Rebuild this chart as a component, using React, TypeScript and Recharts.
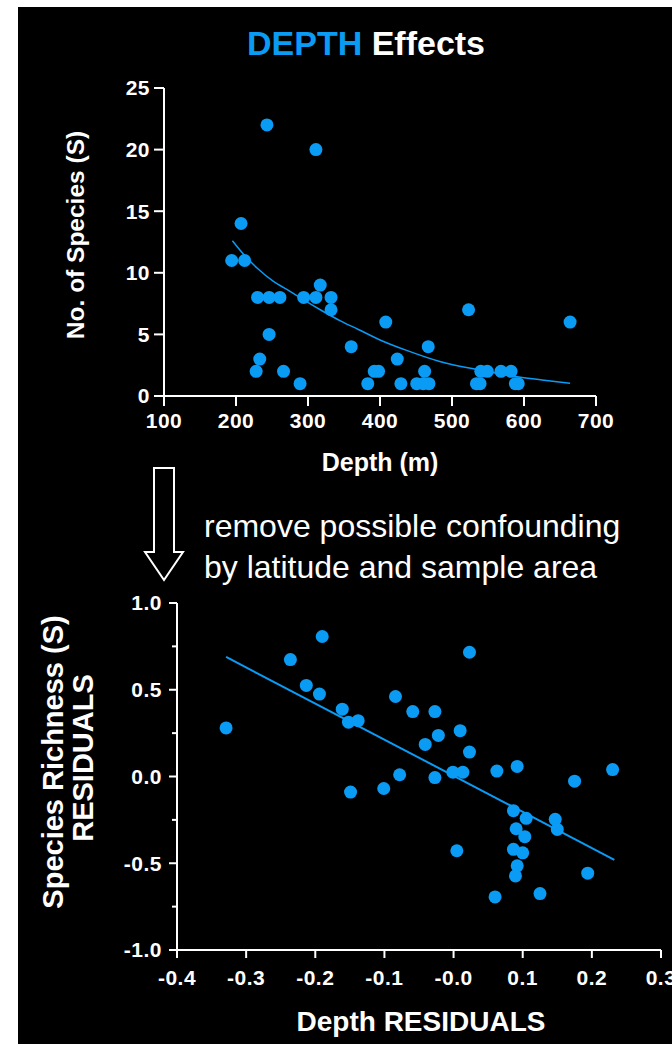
import React from 'react';
import { ScatterChart, Scatter, XAxis, YAxis } from 'recharts';

const BLUE = '#0a9bf5';
const FONT = '"Liberation Sans", Arial, Helvetica, sans-serif';

// top panel: species count vs depth (m)
const depthM = [243, 311, 207, 194, 212, 317, 230, 246, 261, 294, 311, 332, 332, 246, 408, 360, 233, 228, 266, 289, 383, 392, 398, 424, 429, 467, 462, 451, 460, 468, 523, 664, 540, 549, 568, 582, 534, 539, 588, 592];
const speciesS = [22, 20, 14, 11, 11, 9, 8, 8, 8, 8, 8, 8, 7, 5, 6, 4, 3, 2, 2, 1, 1, 2, 2, 3, 1, 4, 2, 1, 1, 1, 7, 6, 2, 2, 2, 2, 1, 1, 1, 1];
// fitted decay curve
const depthFitX = [195, 212, 230, 252, 275, 294, 320, 345, 370, 400, 437, 483, 539, 585, 625, 664];
const depthFitY = [12.6, 11.4, 10.35, 9.3, 8.5, 7.8, 6.9, 6.1, 5.4, 4.55, 3.7, 2.8, 2.1, 1.6, 1.3, 1.03];
const topXTicks = [100, 200, 300, 400, 500, 600, 700];
const topYTicks = [0, 5, 10, 15, 20, 25];

// bottom panel: residuals
const depthResid = [-0.329, -0.236, -0.19, -0.213, -0.194, -0.161, -0.152, -0.138, -0.084, -0.059, -0.149, -0.101, -0.078, 0.023, -0.027, -0.022, -0.041, 0.0095, 0.023, -0.027, -0.001, 0.0134, 0.0626, 0.092, 0.175, 0.23, 0.0866, 0.105, 0.147, 0.15, 0.0905, 0.103, 0.0866, 0.1, 0.092, 0.0895, 0.0047, 0.06, 0.125, 0.194];
const richResid = [0.28, 0.674, 0.807, 0.525, 0.475, 0.388, 0.313, 0.322, 0.461, 0.374, -0.09, -0.069, 0.01, 0.716, 0.374, 0.237, 0.185, 0.264, 0.141, -0.006, 0.025, 0.025, 0.031, 0.058, -0.027, 0.04, -0.197, -0.241, -0.247, -0.305, -0.301, -0.347, -0.42, -0.44, -0.515, -0.573, -0.428, -0.694, -0.675, -0.557];
const residFitX = [-0.329, 0.2325];
const residFitY = [0.689, -0.48];
const botXTicks = [-0.4, -0.3, -0.2, -0.1, 0, 0.1, 0.2, 0.3];
const botXLabels = ['-0.4', '-0.3', '-0.2', '-0.1', '-0.0', '0.1', '0.2', '0.3'];
const botYTicks = [-1, -0.75, -0.5, -0.25, 0, 0.25, 0.5, 0.75, 1];
const botYLabels = ['-1.0', '', '-0.5', '', '0.0', '', '0.5', '', '1.0'];

const zip = (xs: number[], ys: number[]) => xs.map((x, i) => ({ x, y: ys[i] }));

const topPoints = zip(depthM, speciesS);
const topFit = zip(depthFitX, depthFitY);
const botPoints = zip(depthResid, richResid);
const botFit = zip(residFitX, residFitY);

const tickStyle = { fill: '#fff', fontSize: 21, fontWeight: 700, fontFamily: FONT, letterSpacing: 0.5 };
const axisStroke = { stroke: '#fff', strokeWidth: 2 };

const Dot = (p: any) => <circle cx={p.cx} cy={p.cy} r={6.5} fill={BLUE} />;
const NoDot = () => <g />;

const ResidYTick = (props: any) => {
    const { x, y, payload } = props;
    const label = botYLabels[botYTicks.indexOf(payload.value)];
    const axisX = x + 8 + 7;
    const len = label ? 8 : 5;
    return (
        <g>
            <line x1={axisX - len} x2={axisX} y1={y} y2={y} stroke="#fff" strokeWidth={2} />
            {label ? (
                <text x={x} y={y} dy="0.355em" textAnchor="end" {...tickStyle}>
                    {label}
                </text>
            ) : null}
        </g>
    );
};

export default function App() {
    return (
        <div
            style={{
                position: 'fixed',
                left: 0,
                top: 0,
                width: 672,
                height: 1044,
                overflow: 'hidden',
                background: '#fff',
                fontFamily: FONT,
            }}
        >
            <div style={{ position: 'absolute', left: 18, top: 7, width: 654, height: 1037, background: '#000' }} />

            {/* top panel */}
            <div style={{ position: 'absolute', left: 0, top: 0 }}>
                <ScatterChart width={672} height={490} margin={{ top: 88, right: 76, left: 104, bottom: 64 }}>
                    <XAxis
                        type="number"
                        dataKey="x"
                        domain={[100, 700]}
                        ticks={topXTicks}
                        interval={0}
                        height={30}
                        tickSize={10}
                        tickMargin={7}
                        axisLine={axisStroke}
                        tickLine={axisStroke}
                        tick={tickStyle}
                    />
                    <YAxis
                        type="number"
                        dataKey="y"
                        domain={[0, 25]}
                        ticks={topYTicks}
                        interval={0}
                        width={60}
                        tickSize={10}
                        tickMargin={4}
                        axisLine={axisStroke}
                        tickLine={axisStroke}
                        tick={tickStyle}
                    />
                    <Scatter data={topPoints} shape={Dot} isAnimationActive={false} />
                    <Scatter
                        data={topFit}
                        shape={NoDot}
                        line={{ stroke: BLUE, strokeWidth: 1.5 }}
                        lineType="joint"
                        lineJointType="monotoneX"
                        isAnimationActive={false}
                    />
                </ScatterChart>
            </div>

            {/* bottom panel */}
            <div style={{ position: 'absolute', left: 0, top: 560 }}>
                <ScatterChart width={672} height={484} margin={{ top: 43, right: 11, left: 117, bottom: 54 }}>
                    <XAxis
                        type="number"
                        dataKey="x"
                        domain={[-0.4, 0.3]}
                        ticks={botXTicks}
                        interval={0}
                        height={40}
                        tickSize={8}
                        tickMargin={12}
                        axisLine={axisStroke}
                        tickLine={axisStroke}
                        tick={tickStyle}
                        tickFormatter={(v: number) => botXLabels[botXTicks.indexOf(v)] ?? String(v)}
                    />
                    <YAxis
                        type="number"
                        dataKey="y"
                        domain={[-1, 1]}
                        ticks={botYTicks}
                        interval={0}
                        width={60}
                        tickSize={8}
                        tickMargin={7}
                        axisLine={axisStroke}
                        tickLine={false}
                        tick={<ResidYTick />}
                    />
                    <Scatter data={botPoints} shape={Dot} isAnimationActive={false} />
                    <Scatter
                        data={botFit}
                        shape={NoDot}
                        line={{ stroke: BLUE, strokeWidth: 2 }}
                        lineType="joint"
                        isAnimationActive={false}
                    />
                </ScatterChart>
            </div>

            {/* titles, annotation and arrow */}
            <svg width={672} height={1044} style={{ position: 'absolute', left: 0, top: 0, pointerEvents: 'none' }}>
                <text x={366} y={55} textAnchor="middle" fontSize={34} fontWeight={700} fontFamily={FONT}>
                    <tspan fill={BLUE}>DEPTH</tspan>
                    <tspan fill="#fff"> Effects</tspan>
                </text>
                <text
                    transform="translate(75,235) rotate(-90)"
                    textAnchor="middle"
                    dominantBaseline="central"
                    fill="#fff"
                    fontSize={24.5}
                    fontWeight={700}
                    fontFamily={FONT}
                >
                    No. of Species (S)
                </text>
                <text x={380} y={471} textAnchor="middle" fill="#fff" fontSize={25} fontWeight={700} fontFamily={FONT}>
                    Depth (m)
                </text>

                <polygon
                    points="154,468 174,468 174,552 183,552 164,580 145,552 154,552"
                    fill="none"
                    stroke="#fff"
                    strokeWidth={2}
                />
                <text x={204} y={537} fill="#fff" fontSize={32} fontFamily={FONT}>
                    remove possible confounding
                </text>
                <text x={204} y={578} fill="#fff" fontSize={32} fontFamily={FONT}>
                    by latitude and sample area
                </text>

                <text
                    transform="translate(53,762) rotate(-90)"
                    textAnchor="middle"
                    dominantBaseline="central"
                    fill="#fff"
                    fontSize={29}
                    fontWeight={700}
                    fontFamily={FONT}
                >
                    Species Richness (S)
                </text>
                <text
                    transform="translate(83,758) rotate(-90)"
                    textAnchor="middle"
                    dominantBaseline="central"
                    fill="#fff"
                    fontSize={29}
                    fontWeight={700}
                    fontFamily={FONT}
                >
                    RESIDUALS
                </text>
                <text x={421} y={1031} textAnchor="middle" fill="#fff" fontSize={28} fontWeight={700} fontFamily={FONT}>
                    Depth RESIDUALS
                </text>
            </svg>
        </div>
    );
}
